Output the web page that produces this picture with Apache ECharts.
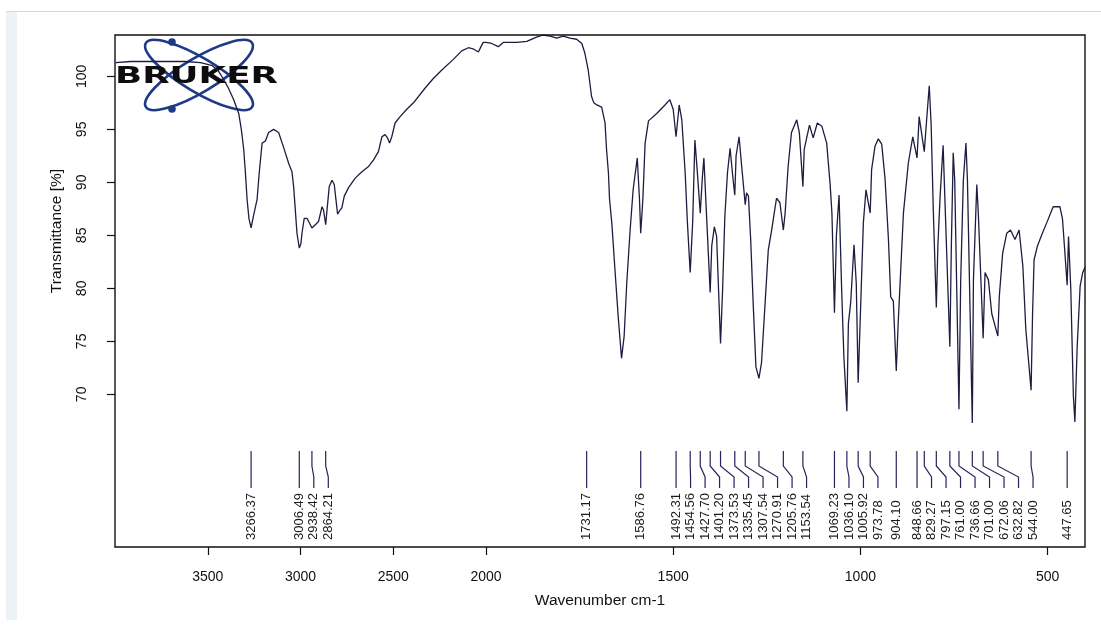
<!DOCTYPE html>
<html>
<head>
<meta charset="utf-8">
<title>IR spectrum</title>
<script src="https://cdn.jsdelivr.net/npm/echarts@6/dist/echarts.min.js"></script>
<style>
  html, body { margin: 0; padding: 0; background: #ffffff; }
  #chart { width: 1101px; height: 634px; }
</style>
</head>
<body>
<div id="chart"></div>
<script>
// Spectrum, 4000–2000 cm-1 (compressed scale), [wavenumber, transmittance %]
const spectrumHigh = [
  [3996,101.3],[3916,101.4],[3808,101.4],[3717,101.4],[3620,101.4],[3539,101.3],[3475,101.0],[3442,100.5],
  [3414,99.7],[3389,98.9],[3360,97.8],[3333,96.5],[3319,95.0],[3306,93.1],[3297,90.9],[3288,88.4],[3278,86.6],
  [3266.37,85.7],[3254,86.8],[3234,88.4],[3222,91.0],[3207,93.7],[3189,93.9],[3172,94.7],[3145,95.0],[3118,94.7],
  [3091,93.3],[3064,91.8],[3046,91.0],[3037,89.6],[3028,87.4],[3019,85.2],[3006.49,83.8],[2998,84.2],[2992,85.2],
  [2980,86.6],[2965,86.6],[2956,86.3],[2938.42,85.7],[2920,86.0],[2903,86.3],[2884,87.7],[2876,87.4],[2864.21,86.0],
  [2857,87.4],[2845,89.6],[2830,90.2],[2818,89.8],[2809,88.4],[2800,87.0],[2790,87.3],[2777,87.6],[2764,88.7],
  [2741,89.5],[2705,90.4],[2669,91.0],[2633,91.5],[2607,92.1],[2580,92.9],[2561,94.3],[2544,94.5],[2531,94.2],
  [2520,93.7],[2508,94.3],[2490,95.6],[2463,96.2],[2427,96.9],[2391,97.5],[2328,98.9],[2284,99.8],[2238,100.6],
  [2176,101.6],[2131,102.4],[2095,102.7],[2070,102.6],[2041,102.3],[2027,102.8],[2015,103.2],[2000,103.2]
];

// Spectrum, 2000–400 cm-1
const spectrumLow = [
  [2000,103.2],[1985,103.1],[1967,102.8],[1954,103.2],[1918,103.2],[1891,103.3],[1865,103.7],[1847,103.9],
  [1829,103.8],[1811,103.6],[1794,103.8],[1776,103.6],[1758,103.5],[1744,103.1],[1736,102.2],[1727,100.6],
  [1718,98.1],[1712,97.5],[1704,97.3],[1691,97.1],[1682,95.6],[1678,93.1],[1673,90.9],[1670,88.4],[1664,86.2],
  [1655,81.5],[1647,77.4],[1638,73.4],[1631,75.5],[1624,80.5],[1615,85.5],[1607,89.3],[1596,92.3],[1590,88.4],
  [1586.76,85.2],[1581,88.4],[1575,93.7],[1566,95.8],[1544,96.5],[1522,97.3],[1509,97.8],[1500,96.9],
  [1492.31,94.3],[1484,97.3],[1477,95.9],[1468,90.9],[1462,86.2],[1454.56,81.5],[1448,86.2],[1442,94.0],
  [1436,91.2],[1427.70,87.1],[1422,90.5],[1418,92.3],[1410,86.2],[1401.20,79.6],[1397,84.0],[1390,85.8],
  [1384,84.9],[1373.53,74.8],[1368,79.9],[1362,86.8],[1355,90.9],[1348,93.2],[1341,90.6],[1335.45,88.8],
  [1332,92.5],[1324,94.3],[1317,91.5],[1307.54,87.9],[1304,89.0],[1299,88.7],[1293,84.6],[1286,78.3],
  [1279,72.6],[1270.91,71.5],[1264,73.0],[1255,78.3],[1246,83.6],[1237,85.5],[1224,88.5],[1215,88.1],
  [1205.76,85.5],[1201,87.1],[1193,91.5],[1184,94.7],[1170,95.9],[1163,94.7],[1153.54,89.6],[1150,93.1],
  [1136,95.4],[1126,94.2],[1115,95.6],[1103,95.3],[1090,93.7],[1081,89.9],[1076,87.1],[1069.23,77.7],
  [1064,85.0],[1057,88.8],[1050,79.9],[1044,73.5],[1036.10,68.4],[1032,76.7],[1026,78.6],[1017,84.1],
  [1011,80.5],[1005.92,71.1],[999,78.6],[992,86.2],[985,89.3],[973.78,87.1],[970,91.2],[961,93.4],[952,94.1],
  [943,93.6],[934,90.3],[925,84.6],[919,79.2],[912,78.8],[904.10,72.2],[899,76.7],[885,87.1],[872,91.8],
  [860,94.3],[848.66,92.3],[843,96.2],[829.27,92.9],[823,95.9],[816,99.1],[811,95.5],[805,87.1],[797.15,78.2],
  [793,84.0],[787,88.7],[779,93.5],[773,87.1],[761.00,74.5],[757,84.0],[752,92.8],[748,90.2],[736.66,68.6],
  [732,80.8],[725,90.2],[718,93.7],[714,90.2],[701.00,67.3],[698,80.8],[689,89.8],[685,87.1],[672.06,75.3],
  [667,81.5],[658,80.8],[649,77.6],[632.82,75.5],[629,79.2],[620,83.3],[609,85.2],[599,85.5],[587,84.6],
  [576,85.5],[566,82.1],[558,76.1],[544.00,70.4],[540,77.7],[536,82.7],[527,84.0],[516,85.0],[502,86.2],
  [485,87.7],[467,87.7],[460,86.5],[447.65,80.3],[444,84.9],[438,80.0],[431,69.8],[427,67.4],[421,74.4],
  [413,80.2],[406,81.5],[400,82.0]
];

// Picked peak positions, cm-1
const peaksHigh = [3266.37, 3006.49, 2938.42, 2864.21];
const peaksLow = [1731.17, 1586.76, 1492.31, 1454.56, 1427.70, 1401.20, 1373.53, 1335.45, 1307.54,
  1270.91, 1205.76, 1153.54, 1069.23, 1036.10, 1005.92, 973.78, 904.10, 848.66, 829.27, 797.15,
  761.00, 736.66, 701.00, 672.06, 632.82, 544.00, 447.65];

// Axis ticks
const xTicksHigh = [3500, 3000, 2500, 2000];
const xTicksLow = [1500, 1000, 500];
const yTicks = [70, 75, 80, 85, 90, 95, 100];

const FONT = '"Liberation Sans", Arial, sans-serif';
const INK = '#1d1d40';
const LABEL_GAP = 14.5;
const Y_MIN = 55.6, Y_MAX = 103.9;

// Peak markers: a leader line from the peak down to its label; crowded labels are pushed to the right
function peakRenderer(peaks) {
  return function (params, api) {
    const i = params.dataIndex;
    const xs = peaks.map(function (w) { return api.coord([w, Y_MIN])[0]; });
    const lx = [];
    for (let k = 0; k < xs.length; k++) {
      lx[k] = k === 0 ? xs[k] : Math.max(xs[k], lx[k - 1] + LABEL_GAP);
    }
    const cs = params.coordSys;
    const bottom = cs.y + cs.height;
    const px = xs[i], tx = lx[i];
    return {
      type: 'group',
      children: [
        {
          type: 'polyline',
          shape: { points: [[px, bottom - 96], [px, bottom - 81], [tx, bottom - 70], [tx, bottom - 59]] },
          style: { stroke: '#24245a', lineWidth: 1.2, fill: null }
        },
        {
          type: 'text',
          x: tx,
          y: bottom - 7,
          rotation: Math.PI / 2,
          style: {
            text: peaks[i].toFixed(2),
            fontSize: 13,
            fontFamily: FONT,
            fill: '#1a1a1a',
            align: 'left',
            verticalAlign: 'middle'
          }
        }
      ]
    };
  };
}

const chart = echarts.init(document.getElementById('chart'), null, { renderer: 'canvas' });

const plainNumber = function (v) { return String(v); };
const tickStyle = { show: true, inside: false, length: 8, lineStyle: { color: '#111', width: 1.2 } };
const xLabelStyle = { show: true, fontSize: 14, fontFamily: FONT, color: '#111', margin: 23, formatter: plainNumber };

chart.setOption({
  animation: false,
  backgroundColor: '#ffffff',
  grid: [
    { left: 115, top: 35, width: 371, height: 512 },
    { left: 486, top: 35, width: 599, height: 512 }
  ],
  xAxis: [
    {
      type: 'value', gridIndex: 0, min: 2000, max: 4000, inverse: true,
      axisLine: { show: false }, splitLine: { show: false },
      axisTick: Object.assign({ customValues: xTicksHigh }, tickStyle),
      axisLabel: Object.assign({ customValues: xTicksHigh }, xLabelStyle)
    },
    {
      type: 'value', gridIndex: 1, min: 400, max: 2000, inverse: true,
      axisLine: { show: false }, splitLine: { show: false },
      axisTick: Object.assign({ customValues: xTicksLow }, tickStyle),
      axisLabel: Object.assign({ customValues: xTicksLow }, xLabelStyle)
    }
  ],
  yAxis: [
    {
      type: 'value', gridIndex: 0, min: Y_MIN, max: Y_MAX,
      axisLine: { show: false }, splitLine: { show: false },
      axisTick: Object.assign({ customValues: yTicks }, tickStyle),
      axisLabel: {
        customValues: yTicks, rotate: 90, margin: 26, formatter: plainNumber,
        fontSize: 14, fontFamily: FONT, color: '#111'
      }
    },
    {
      type: 'value', gridIndex: 1, min: Y_MIN, max: Y_MAX, show: false
    }
  ],
  series: [
    {
      type: 'line', xAxisIndex: 0, yAxisIndex: 0, data: spectrumHigh,
      showSymbol: false, symbol: 'none', lineStyle: { color: INK, width: 1.3 }, z: 3
    },
    {
      type: 'line', xAxisIndex: 1, yAxisIndex: 1, data: spectrumLow,
      showSymbol: false, symbol: 'none', lineStyle: { color: INK, width: 1.3 }, z: 3
    },
    {
      type: 'custom', xAxisIndex: 0, yAxisIndex: 0,
      data: peaksHigh.map(function (w) { return [w, Y_MIN]; }),
      renderItem: peakRenderer(peaksHigh), z: 4
    },
    {
      type: 'custom', xAxisIndex: 1, yAxisIndex: 1,
      data: peaksLow.map(function (w) { return [w, Y_MIN]; }),
      renderItem: peakRenderer(peaksLow), z: 4
    }
  ],
  graphic: [
    // page decoration
    { type: 'line', shape: { x1: 6, y1: 11.5, x2: 1101, y2: 11.5 }, style: { stroke: '#d3d8db', lineWidth: 1 }, z: 0 },
    { type: 'rect', shape: { x: 6, y: 12, width: 11, height: 608 }, style: { fill: '#edf2f5' }, z: 0 },
    // plot frame
    { type: 'rect', shape: { x: 115, y: 35, width: 970, height: 512 },
      style: { fill: null, stroke: '#111', lineWidth: 1.4 }, z: 10 },
    // axis titles
    { type: 'text', x: 600, y: 601, z: 10,
      style: { text: 'Wavenumber cm-1', fontSize: 15.5, fontFamily: FONT, fill: '#111', align: 'center', verticalAlign: 'middle' } },
    { type: 'text', x: 57, y: 231, rotation: Math.PI / 2, z: 10,
      style: { text: 'Transmittance [%]', fontSize: 15.5, fontFamily: FONT, fill: '#111', align: 'center', verticalAlign: 'middle' } },
    // Bruker logo
    {
      type: 'group', z: 20,
      children: [
        { type: 'ellipse', shape: { cx: 199, cy: 75, rx: 62, ry: 17 }, rotation: 0.54, originX: 199, originY: 75,
          style: { fill: null, stroke: '#1d3a86', lineWidth: 2.6 } },
        { type: 'ellipse', shape: { cx: 199, cy: 75, rx: 62, ry: 17 }, rotation: -0.54, originX: 199, originY: 75,
          style: { fill: null, stroke: '#1d3a86', lineWidth: 2.6 } },
        { type: 'circle', shape: { cx: 172, cy: 42, r: 3.8 }, style: { fill: '#1d3a86' } },
        { type: 'circle', shape: { cx: 172, cy: 109, r: 3.8 }, style: { fill: '#1d3a86' } },
        { type: 'text', x: 115, y: 77, scaleX: 1.55, originX: 0, originY: 0,
          style: { text: 'BRUKER', fontSize: 23, fontWeight: 'bold', fontFamily: '"DejaVu Sans", sans-serif',
            fill: '#0d0d0d', align: 'left', verticalAlign: 'middle' } }
      ]
    }
  ]
});
</script>
</body>
</html>
